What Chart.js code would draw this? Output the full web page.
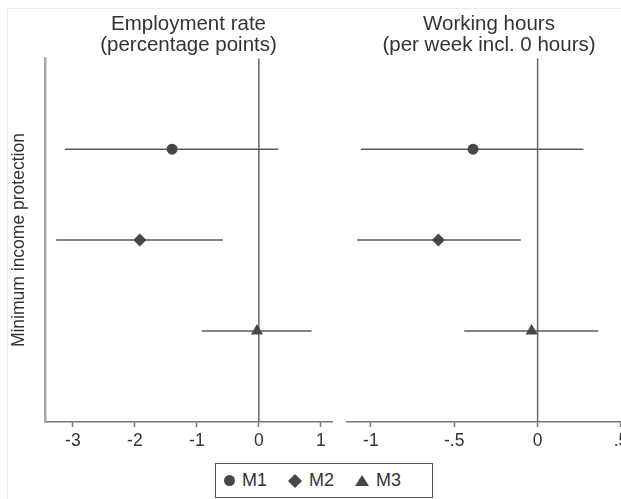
<!DOCTYPE html>
<html>
<head>
<meta charset="utf-8">
<script src="https://cdn.jsdelivr.net/npm/chart.js@4.4.1/dist/chart.umd.min.js"></script>
<style>
body { margin: 0; width: 621px; height: 499px; overflow: hidden; background: #fff; position: relative; font-family: "Liberation Sans", Arial, sans-serif; }
#frame { position: absolute; left: 7px; top: 8px; width: 700px; height: 600px; border: 1px solid #ececec; }
#empChart { position: absolute; left: 0; top: 0; }
#hrsChart { position: absolute; left: 340px; top: 0; }
#legend { position: absolute; left: 215px; top: 463px; width: 216px; height: 33px; border: 1px solid #555; background: #fff; display: flex; align-items: center; font-size: 18px; color: #333; }
.item { display: flex; align-items: center; margin-left: 8px; margin-right: 13px; }
.sym { display: inline-block; margin-right: 7px; background: #474747; }
.circle { width: 11px; height: 11px; border-radius: 50%; }
.diamond { width: 10px; height: 10px; transform: rotate(45deg); margin-left: 2px; margin-right: 9px; }
.triangle { width: 0; height: 0; background: none; border-left: 7px solid transparent; border-right: 7px solid transparent; border-bottom: 11px solid #474747; }
</style>
</head>
<body>
<div id="frame"></div>
<canvas id="empChart" width="340" height="452"></canvas>
<canvas id="hrsChart" width="300" height="452"></canvas>
<div id="legend"></div>
<script>

const models = ["M1", "M2", "M3"];
const modelStyles = ["circle", "rectRot", "triangle"];

// employment rate (percentage points)
const empEst = [-1.40, -1.92, -0.03];
const empLo = [-3.13, -3.27, -0.92];
const empHi = [0.31, -0.58, 0.85];
const empTicks = [-3, -2, -1, 0, 1];
const empTickLabels = ["-3", "-2", "-1", "0", "1"];

// working hours (per week incl. 0 hours)
const hrsEst = [-0.387, -0.595, -0.036];
const hrsLo = [-1.06, -1.083, -0.44];
const hrsHi = [0.274, -0.101, 0.363];
const hrsTicks = [-1, -0.5, 0, 0.5];
const hrsTickLabels = ["-1", "-.5", "0", ".5"];

const yTitle = "Minimum income protection";

// marker size per style
const markerRadius = { circle: 5.5, rectRot: 6.5, triangle: 7 };

function buildDatasets(est, lo, hi) {

    const sets = [];

    sets.push({
        data: [{ x: 0, y: 0 }, { x: 0, y: models.length + 1 }],
        showLine: true,
        pointRadius: 0,
        borderColor: "#666",
        borderWidth: 1.5,
        order: 3
    });

    models.forEach(function(m, i) {

        sets.push({
            data: [{ x: lo[i], y: i + 1 }, { x: hi[i], y: i + 1 }],
            showLine: true,
            pointRadius: 0,
            borderColor: "#5a5a5a",
            borderWidth: 1.5,
            order: 2
        });

        sets.push({
            label: m,
            data: [{ x: est[i], y: i + 1 }],
            pointStyle: modelStyles[i],
            pointRadius: markerRadius[modelStyles[i]],
            backgroundColor: "#474747",
            borderColor: "#474747",
            borderWidth: 0,
            order: 1
        });

    });

    return sets;
}

function makeChart(id, title, est, lo, hi, xMin, xMax, ticks, tickLabels, isLeft) {

    const canvas = document.getElementById(id);

    return new Chart(canvas, {
        type: "scatter",
        data: { datasets: buildDatasets(est, lo, hi) },
        options: {
            responsive: false,
            animation: false,
            layout: {
                padding: isLeft ? { left: 0, right: 8, top: 0, bottom: 0 } : { left: 5, right: 9, top: 0, bottom: 0 }
            },
            plugins: {
                legend: { display: false },
                tooltip: { enabled: false },
                title: {
                    display: true,
                    text: title,
                    fullSize: false,
                    color: "#333",
                    font: { family: "Liberation Sans", size: 20.5, weight: "normal", lineHeight: 1.03 },
                    padding: { top: 14, bottom: 2 }
                }
            },
            scales: {
                x: {
                    type: "linear",
                    min: xMin,
                    max: xMax,
                    afterBuildTicks: function(scale) {
                        scale.ticks = ticks.map(function(v) { return { value: v }; });
                    },
                    afterFit: function(scale) {
                        scale.height = 30;
                    },
                    ticks: {
                        color: "#333",
                        padding: 4,
                        maxRotation: 0,
                        autoSkip: false,
                        font: { family: "Liberation Sans", size: 17.5 },
                        callback: function(value) {
                            return tickLabels[ticks.indexOf(value)];
                        }
                    },
                    grid: {
                        drawOnChartArea: false,
                        drawTicks: true,
                        tickLength: 5,
                        tickColor: "#777",
                        tickWidth: 1.5
                    },
                    border: { display: true, color: "#777", width: 1.5 }
                },
                y: {
                    type: "linear",
                    min: 0,
                    max: models.length + 1,
                    reverse: true,
                    display: isLeft,
                    afterFit: function(scale) {
                        scale.width = isLeft ? 45 : 0;
                    },
                    ticks: { display: false },
                    grid: { display: false },
                    border: { display: true, color: "#a8a8a8", width: 2.5 },
                    title: {
                        display: true,
                        text: yTitle,
                        color: "#333",
                        font: { family: "Liberation Sans", size: 17.5 },
                        padding: { top: 9, bottom: 0 }
                    }
                }
            }
        }
    });
}

makeChart("empChart", ["Employment rate", "(percentage points)"],
    empEst, empLo, empHi, -3.45, 1.18, empTicks, empTickLabels, true);

makeChart("hrsChart", ["Working hours", "(per week incl. 0 hours)"],
    hrsEst, hrsLo, hrsHi, -1.143, 0.56, hrsTicks, hrsTickLabels, false);

const legend = document.getElementById("legend");
const symClasses = ["circle", "diamond", "triangle"];
models.forEach(function(m, i) {
    const item = document.createElement("span");
    item.className = "item";
    const sym = document.createElement("span");
    sym.className = "sym " + symClasses[i];
    item.appendChild(sym);
    item.appendChild(document.createTextNode(m));
    legend.appendChild(item);
});

</script>
</body>
</html>
